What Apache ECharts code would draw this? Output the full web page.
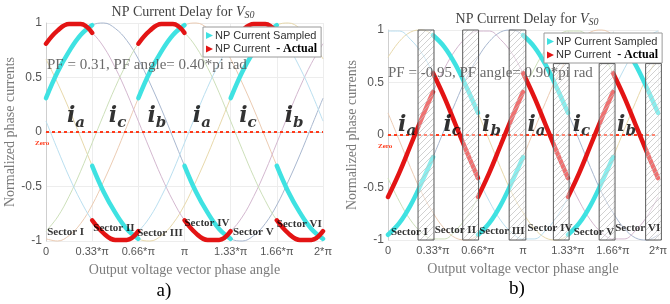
<!DOCTYPE html>
<html>
<head>
<meta charset="utf-8">
<script src="https://cdn.jsdelivr.net/npm/echarts@6.0.0/dist/echarts.min.js"></script>
<style>
  html, body { margin: 0; padding: 0; background: #fff; }
  #chart { width: 670px; height: 304px; }
</style>
</head>
<body>
<div id="chart"></div>
<script>
// x is the phase angle in steps of pi/12 (0 .. 24 = 2*pi)
var angleSteps = [0,1,2,3,4,5,6,7,8,9,10,11,12,13,14,15,16,17,18,19,20,21,22,23,24];
var xTickLabels = ['0', '0.33*\u03c0', '0.66*\u03c0', '\u03c0', '1.33*\u03c0', '1.66*\u03c0', '2*\u03c0'];

// a) PF = 0.31
var aSampledIa = [0.31,0.55,0.74,0.89,0.98,1.00,0.95,0.84,0.67,0.45,0.21,-0.05,-0.31,-0.55,-0.74,-0.89,-0.98,-1.00,-0.95,-0.84,-0.67,-0.45,-0.21,0.05,0.31];
var aSampledIb = [-0.98,-1.00,-0.95,-0.84,-0.67,-0.45,-0.21,0.05,0.31,0.55,0.74,0.89,0.98,1.00,0.95,0.84,0.67,0.45,0.21,-0.05,-0.31,-0.55,-0.74,-0.89,-0.98];
var aSampledIc = [0.67,0.45,0.21,-0.05,-0.31,-0.55,-0.74,-0.89,-0.98,-1.00,-0.95,-0.84,-0.67,-0.45,-0.21,0.05,0.31,0.55,0.74,0.89,0.98,1.00,0.95,0.84,0.67];
var aActualIa = [0.81,0.93,0.99,0.99,0.91,0.78,0.59,0.36,0.10,-0.16,-0.41,-0.63,-0.81,-0.93,-0.99,-0.99,-0.91,-0.78,-0.59,-0.36,-0.10,0.16,0.41,0.63,0.81];
var aActualIb = [-0.91,-0.78,-0.59,-0.36,-0.10,0.16,0.41,0.63,0.81,0.93,0.99,0.99,0.91,0.78,0.59,0.36,0.10,-0.16,-0.41,-0.63,-0.81,-0.93,-0.99,-0.99,-0.91];
var aActualIc = [0.10,-0.16,-0.41,-0.63,-0.81,-0.93,-0.99,-0.99,-0.91,-0.78,-0.59,-0.36,-0.10,0.16,0.41,0.63,0.81,0.93,0.99,0.99,0.91,0.78,0.59,0.36,0.10];

// b) PF = -0.95
var bSampledIa = [-0.95,-0.84,-0.67,-0.45,-0.21,0.05,0.31,0.55,0.74,0.89,0.98,1.00,0.95,0.84,0.67,0.45,0.21,-0.05,-0.31,-0.55,-0.74,-0.89,-0.98,-1.00,-0.95];
var bSampledIb = [0.21,-0.05,-0.31,-0.55,-0.74,-0.89,-0.98,-1.00,-0.95,-0.84,-0.67,-0.45,-0.21,0.05,0.31,0.55,0.74,0.89,0.98,1.00,0.95,0.84,0.67,0.45,0.21];
var bSampledIc = [0.74,0.89,0.98,1.00,0.95,0.84,0.67,0.45,0.21,-0.05,-0.31,-0.55,-0.74,-0.89,-0.98,-1.00,-0.95,-0.84,-0.67,-0.45,-0.21,0.05,0.31,0.55,0.74];
var bActualIa = [-0.59,-0.36,-0.10,0.16,0.41,0.63,0.81,0.93,0.99,0.99,0.91,0.78,0.59,0.36,0.10,-0.16,-0.41,-0.63,-0.81,-0.93,-0.99,-0.99,-0.91,-0.78,-0.59];
var bActualIb = [-0.41,-0.63,-0.81,-0.93,-0.99,-0.99,-0.91,-0.78,-0.59,-0.36,-0.10,0.16,0.41,0.63,0.81,0.93,0.99,0.99,0.91,0.78,0.59,0.36,0.10,-0.16,-0.41];
var bActualIc = [0.99,0.99,0.91,0.78,0.59,0.36,0.10,-0.16,-0.41,-0.63,-0.81,-0.93,-0.99,-0.99,-0.91,-0.78,-0.59,-0.36,-0.10,0.16,0.41,0.63,0.81,0.93,0.99];

// which phase carries the NP current in each sector
var sectorPhase = ['a', 'c', 'b', 'a', 'c', 'b'];
var sectorNames = ['Sector I', 'Sector II', 'Sector III', 'Sector IV', 'Sector V', 'Sector VI'];

// label anchors (x in pi/12 steps)
var aPhaseLabelX = [2.6, 6.2, 9.6, 13.5, 17.5, 21.5];
var aPhaseLabelY = 0.14;
var bPhaseLabelX = [1.7, 5.7, 9.2, 13.2, 17.2, 21.2];
var bPhaseLabelY = 0.09;
var aSectorLabelX = [0.1, 4.1, 7.9, 12.0, 16.2, 20.0];
var aSectorLabelY = [-0.92, -0.88, -0.93, -0.84, -0.92, -0.85];
var bSectorLabelX = [0.26, 4.15, 8.1, 12.4, 16.5, 20.2];
var bSectorLabelY = [-0.93, -0.905, -0.92, -0.885, -0.93, -0.885];

// hatched sampling windows in b)
var bWindowStart = [2.67, 6.64, 10.77, 14.7, 18.77, 22.9];
var bWindowEnd = [4.09, 8.05, 12.25, 16.1, 20.18, 24.3];
var bWindowTop = [1, 1, 1, 0.68, 0.68, 0.68];

var SAMPLED = 'NP Current Sampled';
var ACTUAL = 'NP Current  - Actual';
var thinColors = ['#a9b8d0', '#ecccb3', '#e8d9ab', '#d4b8d0', '#cde0ba', '#badff0'];

function pairs(vals) {
  return angleSteps.map(function (k, i) { return [k, vals[i]]; });
}

function panelSeries(idx, sampled, actual) {
  var list = [];
  var curves = [sampled.a, sampled.b, sampled.c, actual.a, actual.b, actual.c];
  curves.forEach(function (vals, i) {
    list.push({
      type: 'line', xAxisIndex: idx, yAxisIndex: idx, data: pairs(vals),
      smooth: 0.4, showSymbol: false, silent: true, z: 2, clip: false,
      lineStyle: { color: thinColors[i], width: 1 }
    });
  });
  // zero line
  list.push({
    type: 'line', xAxisIndex: idx, yAxisIndex: idx, data: [[0, 0], [24, 0]],
    showSymbol: false, silent: true, z: 3,
    lineStyle: { color: '#ff3a1a', width: 2, type: [3, 3] }
  });
  sectorPhase.forEach(function (ph, s) {
    var seg = function (vals) {
      var out = [];
      for (var k = 4 * s; k <= 4 * s + 4; k++) out.push([angleSteps[k], vals[k]]);
      return out;
    };
    list.push({
      name: SAMPLED, type: 'line', xAxisIndex: idx, yAxisIndex: idx, data: seg(sampled[ph]),
      smooth: 0.4, showSymbol: false, z: 3, clip: false,
      itemStyle: { color: '#3fe2e2' },
      lineStyle: { color: '#3fe2e2', width: 4.5, cap: 'round' }
    });
    list.push({
      name: ACTUAL, type: 'line', xAxisIndex: idx, yAxisIndex: idx, data: seg(actual[ph]),
      smooth: 0.4, showSymbol: false, z: 3, clip: false,
      itemStyle: { color: '#e31414' },
      lineStyle: { color: '#e31414', width: 4.5, cap: 'round' }
    });
  });
  return list;
}

function labelSeries(idx, phX, phY, secX, secY) {
  var phaseData = phX.map(function (x, i) {
    return { value: [x, phY], label: { formatter: '{i|i}{s|' + sectorPhase[i] + '}' } };
  });
  var sectorData = secX.map(function (x, i) {
    return { value: [x, secY[i]], label: { formatter: sectorNames[i] } };
  });
  return [{
    type: 'scatter', xAxisIndex: idx, yAxisIndex: idx, data: phaseData, symbolSize: 1, silent: true, z: 6,
    itemStyle: { color: 'rgba(0,0,0,0)' },
    label: {
      show: true, position: 'inside', color: '#000',
      rich: {
        i: { fontFamily: 'DejaVu Serif', fontStyle: 'italic', fontWeight: 'bold', fontSize: 22, color: '#000' },
        s: { fontFamily: 'DejaVu Serif', fontStyle: 'italic', fontWeight: 'bold', fontSize: 15, color: '#000', padding: [12, 0, 0, 0] }
      }
    }
  }, {
    type: 'scatter', xAxisIndex: idx, yAxisIndex: idx, data: sectorData, symbolSize: 1, silent: true, z: 6,
    itemStyle: { color: 'rgba(0,0,0,0)' },
    label: {
      show: true, position: 'inside', align: 'left', verticalAlign: 'middle',
      fontFamily: 'Liberation Serif', fontWeight: 'bold', fontSize: 11, color: '#000'
    }
  }];
}

// diagonal hatch for the sampling windows
var hatch = document.createElement('canvas');
hatch.width = 6; hatch.height = 6;
var hctx = hatch.getContext('2d');
hctx.fillStyle = 'rgba(255,255,255,0.4)';
hctx.fillRect(0, 0, 6, 6);
hctx.strokeStyle = '#bdbdbd';
hctx.lineWidth = 0.7;
hctx.beginPath();
hctx.moveTo(0, 6); hctx.lineTo(6, 0);
hctx.moveTo(-1, 1); hctx.lineTo(1, -1);
hctx.moveTo(5, 7); hctx.lineTo(7, 5);
hctx.stroke();

function makeAxes(idx) {
  return {
    x: {
      type: 'value', gridIndex: idx, min: 0, max: 24, interval: 4,
      name: 'Output voltage vector phase angle', nameLocation: 'middle', nameGap: 22,
      nameTextStyle: { fontFamily: 'Liberation Serif', fontSize: 14, color: '#7a7a7a' },
      axisLine: { lineStyle: { color: '#cfcfcf' } },
      axisTick: { show: false },
      axisLabel: {
        margin: 5, fontFamily: 'Liberation Sans', fontSize: 11, color: '#555',
        formatter: function (v) { return xTickLabels[Math.round(v / 4)]; }
      },
      splitLine: { show: true, lineStyle: { color: '#ededed' } }
    },
    y: {
      type: 'value', gridIndex: idx, min: -1, max: 1, interval: 0.5,
      name: 'Normalized phase currents', nameLocation: 'middle', nameGap: 26,
      nameTextStyle: { fontFamily: 'Liberation Serif', fontSize: 14, color: '#7a7a7a' },
      axisLine: { show: true, lineStyle: { color: '#cfcfcf' } },
      axisTick: { show: false },
      axisLabel: { margin: 4, fontFamily: 'Liberation Sans', fontSize: 12, color: '#555' },
      splitLine: { show: true, lineStyle: { color: '#ededed' } }
    }
  };
}

var axA = makeAxes(0), axB = makeAxes(1);

function legendFor(left, top) {
  return {
    left: left, top: top, orient: 'vertical', itemGap: 2, itemWidth: 7, itemHeight: 7,
    icon: 'path://M0,0 L10,5 L0,10 Z',
    padding: [3, 4, 2, 3], backgroundColor: '#fff', borderColor: '#9a9a9a', borderWidth: 1,
    data: [SAMPLED, ACTUAL], selectedMode: false,
    formatter: function (name) { return name === ACTUAL ? 'NP Current  {b|- Actual}' : name; },
    textStyle: {
      fontFamily: 'Liberation Sans', fontSize: 11, color: '#333', padding: [0, 0, 0, -3],
      rich: { b: { fontFamily: 'Liberation Serif', fontWeight: 'bold', fontSize: 12, color: '#000' } }
    }
  };
}

function titleText(cx, cy) {
  return {
    type: 'text', x: cx, y: cy, z: 10,
    style: {
      text: '{t|NP Current Delay for }{v|V}{s|S0}', align: 'center', verticalAlign: 'middle',
      rich: {
        t: { fontFamily: 'Liberation Serif', fontSize: 14, fill: '#444' },
        v: { fontFamily: 'Liberation Serif', fontStyle: 'italic', fontSize: 14, fill: '#444' },
        s: { fontFamily: 'Liberation Serif', fontStyle: 'italic', fontSize: 10, fill: '#444', padding: [6, 0, 0, 0] }
      }
    }
  };
}

function plainText(x, y, text, font, fill, align) {
  return {
    type: 'text', x: x, y: y, z: 10, silent: true,
    style: { text: text, font: font, fill: fill, align: align || 'left', verticalAlign: 'middle' }
  };
}

var series = []
  .concat(panelSeries(0, { a: aSampledIa, b: aSampledIb, c: aSampledIc }, { a: aActualIa, b: aActualIb, c: aActualIc }))
  .concat(panelSeries(1, { a: bSampledIa, b: bSampledIb, c: bSampledIc }, { a: bActualIa, b: bActualIb, c: bActualIc }))
  .concat(labelSeries(0, aPhaseLabelX, aPhaseLabelY, aSectorLabelX, aSectorLabelY))
  .concat(labelSeries(1, bPhaseLabelX, bPhaseLabelY, bSectorLabelX, bSectorLabelY));

series.push({
  type: 'custom', xAxisIndex: 1, yAxisIndex: 1, clip: false, silent: true, z: 4,
  data: bWindowStart.map(function (s, i) { return [s, bWindowEnd[i], bWindowTop[i]]; }),
  encode: { x: [0, 1], y: 2 },
  renderItem: function (params, api) {
    var p0 = api.coord([api.value(0), api.value(2)]);
    var p1 = api.coord([api.value(1), -1]);
    return {
      type: 'rect',
      shape: { x: p0[0], y: p0[1], width: p1[0] - p0[0], height: p1[1] - p0[1] },
      style: { fill: { image: hatch, repeat: 'repeat' }, stroke: '#5a5a5a', lineWidth: 1 }
    };
  }
});

var chart = echarts.init(document.getElementById('chart'), null, { renderer: 'canvas' });
chart.setOption({
  animation: false,
  backgroundColor: '#fff',
  grid: [
    { left: 46, top: 23, width: 277, height: 218 },
    { left: 388, top: 30, width: 272, height: 210 }
  ],
  xAxis: [axA.x, axB.x],
  yAxis: [axA.y, axB.y],
  legend: [legendFor(203, 27), legendFor(544, 33)],
  graphic: [
    titleText(183, 12),
    titleText(527, 19),
    plainText(47, 65, 'PF = 0.31, PF angle= 0.40*pi rad', '15px "Liberation Serif"', 'rgba(80,80,80,0.85)'),
    plainText(388, 73, 'PF = -0.95, PF angle= 0.90*pi rad', '15px "Liberation Serif"', 'rgba(80,80,80,0.85)'),
    plainText(35, 143, 'Zero', 'bold 7px "Liberation Serif"', '#ff3a1a'),
    plainText(378, 146, 'Zero', 'bold 7px "Liberation Serif"', '#ff3a1a'),
    plainText(164, 291, 'a)', '19px "Liberation Serif"', '#000', 'center'),
    plainText(517, 289, 'b)', '19px "Liberation Serif"', '#000', 'center')
  ],
  series: series
});
</script>
</body>
</html>
